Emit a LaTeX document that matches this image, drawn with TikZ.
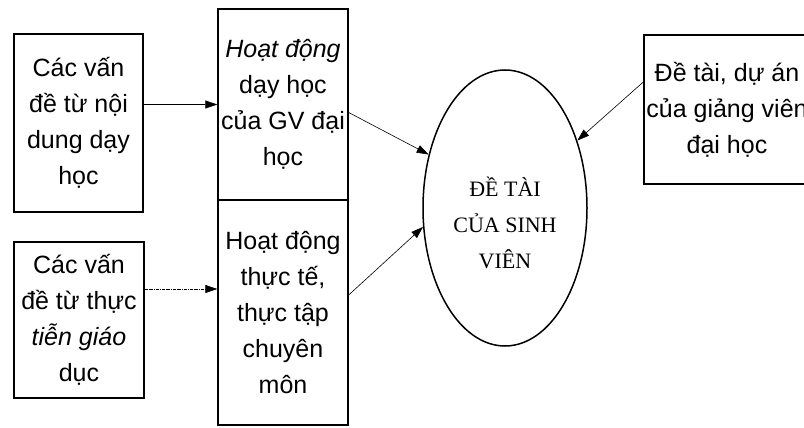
\documentclass[tikz,border=0pt]{standalone}
\usepackage{fontspec}
\setmainfont{Liberation Sans}
\newfontfamily\serifvn{Liberation Serif}
\usetikzlibrary{positioning, calc, arrows.meta, shapes.geometric}

\begin{document}
\begin{tikzpicture}[x=1pt, y=-1pt,
    hop/.style={draw, line width=1.4pt, align=center, inner sep=0pt, font=\fontsize{25}{36}\selectfont},
    muiten/.style={-{Triangle[length=12pt,width=8pt]}, line width=0.6pt}]
  \useasboundingbox (0,0) rectangle (804,428);
  % hop ben trai
  \node[hop, minimum width=129, minimum height=178] (ndday) at (78.5,123) {Các vấn\\đề từ nội\\dung dạy\\học};
  \node[hop, minimum width=130, minimum height=156] (thtien) at (79,320) {Các vấn\\đề từ thực\\\textit{tiễn giáo}\\dục};
  % hop giua
  \node[hop, minimum width=130, minimum height=191] (hdday) at (283,104.5) {\textit{Hoạt động}\\dạy học\\của GV đại\\học};
  \node[hop, minimum width=130, minimum height=225] (hdtt) at (283,312.5) {Hoạt động\\thực tế,\\thực tập\\chuyên\\môn};
  % hop ben phai
  \node[hop, minimum width=166, minimum height=149] (detai) at (727,109.5) {Đề tài, dự án\\của giảng viên\\đại học};
  % hinh elip
  \node[ellipse, draw, line width=1.5pt, minimum width=164, minimum height=276, inner sep=0pt] (sv) at (505,208) {};
  \node[font=\serifvn\fontsize{22}{36}\selectfont, align=center] (svten) at (505,223) {ĐỀ TÀI\\CỦA SINH\\VIÊN};
  % mui ten
  \draw[muiten] (hdday.west -| ndday.east) -- (hdday.west);
  \draw[muiten, densely dashdotted] ([yshift=31pt]thtien.east) coordinate (dautt) -- (dautt -| hdtt.west);
  \draw[muiten] ([yshift=-8pt]hdday.east) -- (sv.145);
  \draw[muiten] ([yshift=17.5pt]hdtt.east) -- (sv.193);
  \draw[muiten] ([yshift=27.5pt]detai.west) -- (sv.43);
\end{tikzpicture}
\end{document}
